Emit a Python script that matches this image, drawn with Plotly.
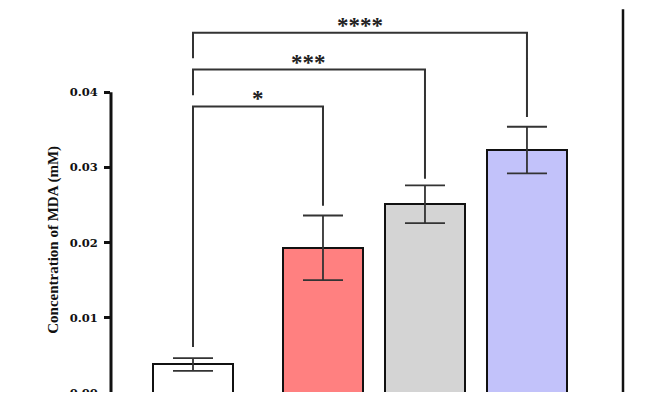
import plotly.graph_objects as go

# ---- data ----
groups = ["Control", "Group A", "Group B", "Group C"]
mda_mean = [0.0038, 0.0193, 0.0251, 0.0323]
mda_err = [0.00085, 0.0043, 0.0025, 0.0031]
bar_colors = ["#FFFFFF", "#FF8080", "#D4D4D4", "#C2C2FA"]
tick_vals = [0.00, 0.01, 0.02, 0.03, 0.04]
y_title = "Concentration of MDA (mM)"

# significance comparisons: (group index a, group index b, label, bracket level, end_a, end_b)
comparisons = [
    (0, 1, "*", 0.0381, 0.0061, 0.0249),
    (0, 2, "***", 0.0430, 0.0396, 0.0285),
    (0, 3, "****", 0.0479, 0.0445, 0.0367),
]

# ---- layout helpers ----
x_pos = [0.0, 1.2745, 2.2745, 3.2745]
bar_w = 0.784
x_range = [-0.804, 4.216]
y_range = [0, 0.05119]

fig = go.Figure()
fig.add_trace(go.Bar(
    x=x_pos, y=mda_mean, width=bar_w,
    marker=dict(color=bar_colors, line=dict(color="#111111", width=2)),
    error_y=dict(type="data", array=mda_err, visible=True,
                 color="#333333", thickness=1.8, width=20),
    hoverinfo="skip", showlegend=False,
))

shapes = []
annotations = []
line_col = "#333333"
for a, b, lab, lvl, ea, eb in comparisons:
    xa, xb = x_pos[a], x_pos[b]
    shapes.append(dict(type="path", xref="x", yref="y",
                       path=f"M {xa},{ea} L {xa},{lvl} L {xb},{lvl} L {xb},{eb}",
                       line=dict(color=line_col, width=2)))
    annotations.append(dict(x=(xa + xb) / 2, y=lvl, xref="x", yref="y",
                            text=lab, showarrow=False, yanchor="bottom",
                            yshift=-7,
                            font=dict(family="Liberation Serif", size=23,
                                      color="#222222", weight="bold")))

# y axis line only from 0 to top tick
shapes.append(dict(type="line", xref="paper", yref="y", x0=0, x1=0,
                   y0=tick_vals[0], y1=tick_vals[-1],
                   line=dict(color="#111111", width=3)))
# right vertical frame line
shapes.append(dict(type="line", xref="paper", yref="paper", x0=1, x1=1,
                   y0=0, y1=0.997, line=dict(color="#111111", width=2.5)))
# white strip at the bottom (image crop)
shapes.append(dict(type="rect", xref="paper", yref="paper", x0=-0.3, x1=1.1,
                   y0=-0.1, y1=0.0026, fillcolor="white",
                   line=dict(width=0), layer="above"))

annotations.append(dict(x=-0.1113, y=0.398, xref="paper", yref="paper",
                        text=f"<b>{y_title}</b>", textangle=-90,
                        showarrow=False, xanchor="center", yanchor="middle",
                        font=dict(family="Liberation Serif", size=15,
                                  color="#111111")))

fig.update_layout(
    width=658, height=408,
    margin=dict(l=111, r=35, t=8, b=12),
    paper_bgcolor="white", plot_bgcolor="white",
    shapes=shapes, annotations=annotations,
    xaxis=dict(visible=False, range=x_range),
    yaxis=dict(range=y_range, tickvals=tick_vals, tickformat=".2f",
               showline=False, showgrid=False, zeroline=False,
               ticks="outside", ticklen=6, tickwidth=3, tickcolor="#111111",
               ticklabelstandoff=4,
               tickfont=dict(family="DejaVu Serif", size=11.5, color="#111111",
                             weight="bold")),
    bargap=0,
)

fig.write_html("out.html")
